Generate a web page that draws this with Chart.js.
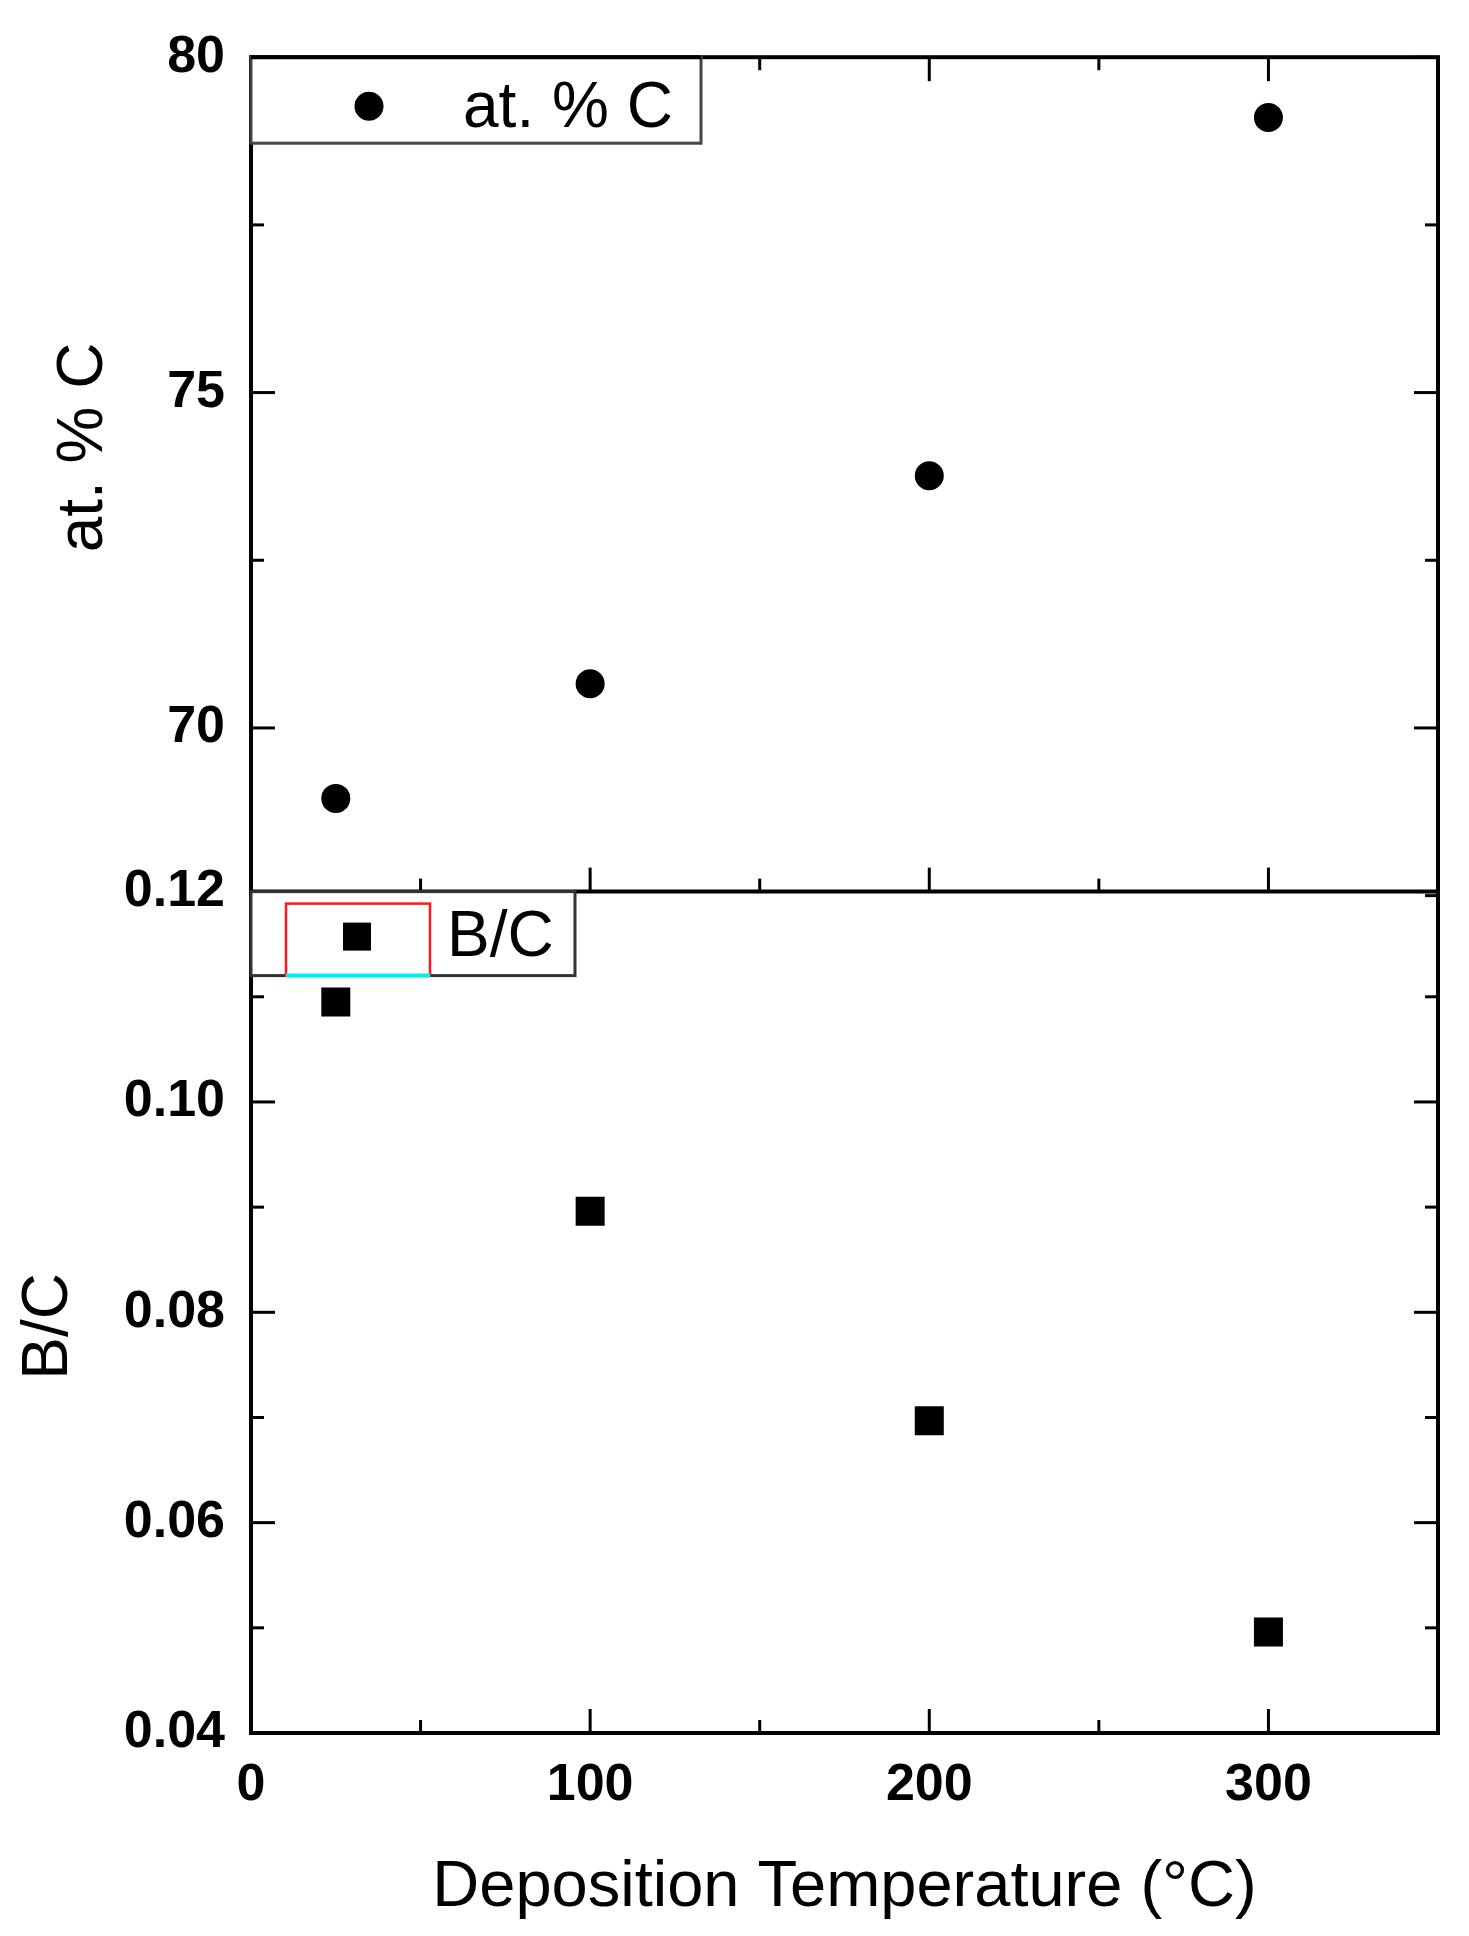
<!DOCTYPE html>
<html>
<head>
<meta charset="utf-8">
<script src="https://cdn.jsdelivr.net/npm/chart.js@4/dist/chart.umd.min.js"></script>
<style>
  html, body { margin: 0; padding: 0; background: #fff; }
</style>
</head>
<body>
<canvas id="chart" width="1469" height="1936"></canvas>
<script>
const temps = [25, 100, 200, 300];
const carbonPct = [68.95, 70.66, 73.76, 79.10];
const boronRatio = [0.1095, 0.0896, 0.0697, 0.0496];

const xTicks = [0, 100, 200, 300];
const xMinor = [50, 150, 250];
const carbonTicks = [70, 75, 80];
const carbonMinor = [67.5, 72.5, 77.5];
const ratioTicks = [0.04, 0.06, 0.08, 0.10, 0.12];
const ratioMinor = [0.05, 0.07, 0.09, 0.11];

const xTitle = "Deposition Temperature (°C)";
const carbonTitle = "at. % C";
const ratioTitle = "B/C";

const FONT = '"Liberation Sans", Arial, sans-serif';

function setTicks(list) {
  return scale => { scale.ticks = list.map(v => ({ value: v })); };
}

// frame, inward ticks, y titles and the two boxed legends
const framePlugin = {
  id: "frame",
  afterDatasetsDraw(chart) {
    const { ctx, chartArea: a } = chart;
    const { x, yC, yBC } = chart.scales;
    ctx.save();
    ctx.strokeStyle = "#000";
    ctx.lineCap = "butt";

    const line = (x1, y1, x2, y2) => {
      ctx.beginPath(); ctx.moveTo(x1, y1); ctx.lineTo(x2, y2); ctx.stroke();
    };
    const major = 24, minor = 13;
    ctx.lineWidth = 3;

    xTicks.concat(xMinor).forEach(v => {
      const len = xTicks.includes(v) ? major : minor;
      const px = x.getPixelForValue(v);
      line(px, yC.top, px, yC.top + len);
      line(px, yC.bottom, px, yC.bottom - len);
      line(px, yBC.bottom, px, yBC.bottom - len);
    });

    [[yC, carbonTicks, carbonMinor], [yBC, ratioTicks, ratioMinor]].forEach(([s, maj, mn]) => {
      maj.concat(mn).forEach(v => {
        const len = maj.includes(v) ? major : minor;
        const py = s.getPixelForValue(v);
        line(a.left, py, a.left + len, py);
        line(a.right, py, a.right - len, py);
      });
    });

    ctx.lineWidth = 4;
    ctx.strokeRect(a.left, a.top, a.right - a.left, a.bottom - a.top);
    line(a.left, yC.bottom, a.right, yC.bottom);
    ctx.restore();
  },
  afterDraw(chart) {
    const { ctx, chartArea: a } = chart;
    const { yC, yBC } = chart.scales;
    const ds = chart.data.datasets;
    ctx.save();

    // rotated y titles
    ctx.fillStyle = "#000";
    ctx.font = "64px " + FONT;
    ctx.textAlign = "center";
    ctx.textBaseline = "middle";
    [[yC, carbonTitle, 84, -27], [yBC, ratioTitle, 49, 14]].forEach(([s, text, cx, dy]) => {
      ctx.save();
      ctx.translate(cx, (s.top + s.bottom) / 2 + dy);
      ctx.rotate(-Math.PI / 2);
      ctx.fillText(text, 0, 0);
      ctx.restore();
    });

    // legend for at. % C
    ctx.fillStyle = "#fff";
    ctx.fillRect(a.left, yC.top, 450, 86);
    ctx.strokeStyle = "#444";
    ctx.lineWidth = 3;
    ctx.strokeRect(a.left, yC.top, 450, 86);
    ctx.strokeStyle = "#000";
    ctx.lineWidth = 4;
    ctx.beginPath(); ctx.moveTo(a.left, yC.top); ctx.lineTo(a.left + 450, yC.top); ctx.stroke();
    ctx.fillStyle = "#000";
    ctx.beginPath();
    ctx.arc(a.left + 118, yC.top + 49, 14.5, 0, Math.PI * 2);
    ctx.fill();
    ctx.font = "64px " + FONT;
    ctx.textBaseline = "middle";
    ctx.textAlign = "left";
    ctx.fillText(ds[0].label, a.left + 212, yC.top + 52);

    // legend for B/C
    ctx.fillStyle = "#fff";
    ctx.fillRect(a.left, yBC.top, 324, 84);
    ctx.strokeStyle = "#333";
    ctx.lineWidth = 3;
    ctx.strokeRect(a.left, yBC.top, 324, 84);
    ctx.strokeStyle = "#ff1a1a";
    ctx.lineWidth = 2.5;
    ctx.strokeRect(a.left + 35, yBC.top + 12, 144, 72);
    ctx.strokeStyle = "#00f0f0";
    ctx.lineWidth = 4;
    ctx.beginPath(); ctx.moveTo(a.left + 35, yBC.top + 84); ctx.lineTo(a.left + 179, yBC.top + 84); ctx.stroke();
    ctx.fillStyle = "#000";
    ctx.fillRect(a.left + 106 - 14, yBC.top + 45 - 14, 28, 28);
    ctx.font = "64px " + FONT;
    ctx.fillText(ds[1].label, a.left + 196, yBC.top + 47);
    ctx.restore();
  }
};

const tickFont = { family: FONT, size: 52, weight: "bold" };
const titleFont = { family: FONT, size: 65, weight: "normal" };

new Chart(document.getElementById("chart"), {
  type: "scatter",
  data: {
    datasets: [
      {
        label: "at. % C",
        data: temps.map((t, i) => ({ x: t, y: carbonPct[i] })),
        yAxisID: "yC",
        pointStyle: "circle",
        pointRadius: 14.5,
        pointHoverRadius: 14.5,
        backgroundColor: "#000",
        borderColor: "#000",
        borderWidth: 0
      },
      {
        label: "B/C",
        data: temps.map((t, i) => ({ x: t, y: boronRatio[i] })),
        yAxisID: "yBC",
        pointStyle: "rect",
        pointRadius: 20.5,
        pointHoverRadius: 20.5,
        backgroundColor: "#000",
        borderColor: "#000",
        borderWidth: 0
      }
    ]
  },
  options: {
    responsive: false,
    animation: false,
    devicePixelRatio: 1,
    layout: { padding: { top: 52, right: 31, left: 0, bottom: 0 } },
    plugins: { legend: { display: false }, tooltip: { enabled: false } },
    scales: {
      x: {
        type: "linear",
        position: "bottom",
        min: 0,
        max: 350,
        afterBuildTicks: setTicks(xTicks),
        afterFit: s => { s.height = 203; },
        grid: { display: false, drawTicks: false },
        border: { display: false },
        ticks: { color: "#000", font: tickFont, padding: 21, autoSkip: false, maxRotation: 0 },
        title: {
          display: true,
          text: xTitle,
          color: "#000",
          font: titleFont,
          padding: { top: 0, bottom: 9 }
        }
      },
      yBC: {
        type: "linear",
        position: "left",
        stack: "left",
        stackWeight: 844,
        min: 0.04,
        max: 0.12,
        afterBuildTicks: setTicks(ratioTicks),
        afterFit: s => { s.width = 251; },
        grid: { display: false, drawTicks: false },
        border: { display: false },
        ticks: { color: "#000", font: tickFont, padding: 26, autoSkip: false, callback: v => v.toFixed(2) },
        title: { display: false }
      },
      yC: {
        type: "linear",
        position: "left",
        stack: "left",
        stackWeight: 837,
        min: 67.56,
        max: 80,
        afterBuildTicks: setTicks(carbonTicks),
        afterFit: s => { s.width = 251; },
        grid: { display: false, drawTicks: false },
        border: { display: false },
        ticks: { color: "#000", font: tickFont, padding: 26, autoSkip: false },
        title: { display: false }
      }
    }
  },
  plugins: [framePlugin]
});
</script>
</body>
</html>
